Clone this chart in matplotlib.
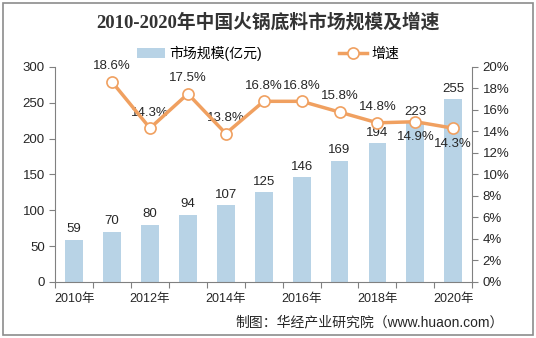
import matplotlib
matplotlib.use('Agg')
import matplotlib.pyplot as plt
from matplotlib.patches import Rectangle

plt.rcParams['font.family'] = ['Liberation Sans', 'Noto Sans CJK SC', 'DejaVu Sans']

years = ['2010年', '2011年', '2012年', '2013年', '2014年', '2015年',
         '2016年', '2017年', '2018年', '2019年', '2020年']
size = [59, 70, 80, 94, 107, 125, 146, 169, 194, 223, 255]
growth = [None, 18.6, 14.3, 17.5, 13.8, 16.8, 16.8, 15.8, 14.8, 14.9, 14.3]
below = ['2019年', '2020年']

BAR = '#b8d3e6'
LINE = '#f0a060'
TXT = '#262626'

fig = plt.figure(figsize=(5.36, 3.38), dpi=100)
fig.patches.append(Rectangle((0.006, 0.01), 0.988, 0.98, transform=fig.transFigure,
                             fill=False, edgecolor='#8c8c8c', linewidth=1.2))

ax = fig.add_axes([0.103, 0.166, 0.778, 0.636])
x = list(range(len(years)))
ax.bar(x, size, width=0.47, color=BAR, label='市场规模(亿元)', zorder=2)
for xi, v in zip(x, size):
    ax.text(xi, v + 6, str(v), ha='center', va='bottom', fontsize=9.5, color=TXT, zorder=5)

ax.set_xlim(-0.5, len(years) - 0.5)
ax.set_ylim(0, 300)
ax.set_yticks(range(0, 301, 50))
ax.set_xticks([i - 0.5 for i in range(len(years) + 1)], minor=False)
ax.set_xticklabels([])
ax.set_xticks(x[::2], minor=True)
ax.set_xticklabels(years[::2], minor=True)
ax.tick_params(axis='x', which='minor', length=0, labelsize=9, colors=TXT, pad=8)
ax.tick_params(axis='x', which='major', length=4, color='#808080')
ax.tick_params(axis='y', labelsize=9.5, colors=TXT, length=4, color='#808080')
for s in ['top', 'right']:
    ax.spines[s].set_visible(False)
for s in ['left', 'bottom']:
    ax.spines[s].set_color('#808080')

ax2 = ax.twinx()
gx = [xi for xi, g in zip(x, growth) if g is not None]
gy = [g for g in growth if g is not None]
ax2.plot(gx, gy, color=LINE, linewidth=2.5, marker='o', markersize=8,
         markerfacecolor='white', markeredgecolor=LINE, markeredgewidth=1.2,
         label='增速', zorder=4)
for xi, g in zip(gx, gy):
    if years[xi] in below:
        ax2.text(xi, g - 0.9, f'{g}%', ha='center', va='top', fontsize=9.5, color=TXT)
    else:
        ax2.text(xi, g + 0.9, f'{g}%', ha='center', va='bottom', fontsize=9.5, color=TXT)
ax2.set_ylim(0, 20)
ax2.set_yticks(range(0, 21, 2))
ax2.set_yticklabels([f'{t}%' for t in range(0, 21, 2)])
ax2.tick_params(axis='y', labelsize=9.5, colors=TXT, length=4, color='#808080')
for s in ['top', 'left', 'bottom']:
    ax2.spines[s].set_visible(False)
ax2.spines['right'].set_color('#808080')

h1, l1 = ax.get_legend_handles_labels()
h2, l2 = ax2.get_legend_handles_labels()
fig.legend(h1 + h2, l1 + l2, loc='center', bbox_to_anchor=(0.5, 0.843), ncol=2,
           frameon=False, fontsize=10, columnspacing=5.6, handlelength=2.0,
           handletextpad=0.3)

fig.text(0.5, 0.935, '2010-2020年中国火锅底料市场规模及增速', ha='center', va='center',
         fontsize=13.5, fontweight='bold', color='#333333',
         family=['Liberation Serif', 'Noto Sans CJK SC'])
fig.text(0.94, 0.045, '制图：华经产业研究院（www.huaon.com）', ha='right', va='center',
         fontsize=10, color=TXT)

fig.savefig('out.png', dpi=100)
